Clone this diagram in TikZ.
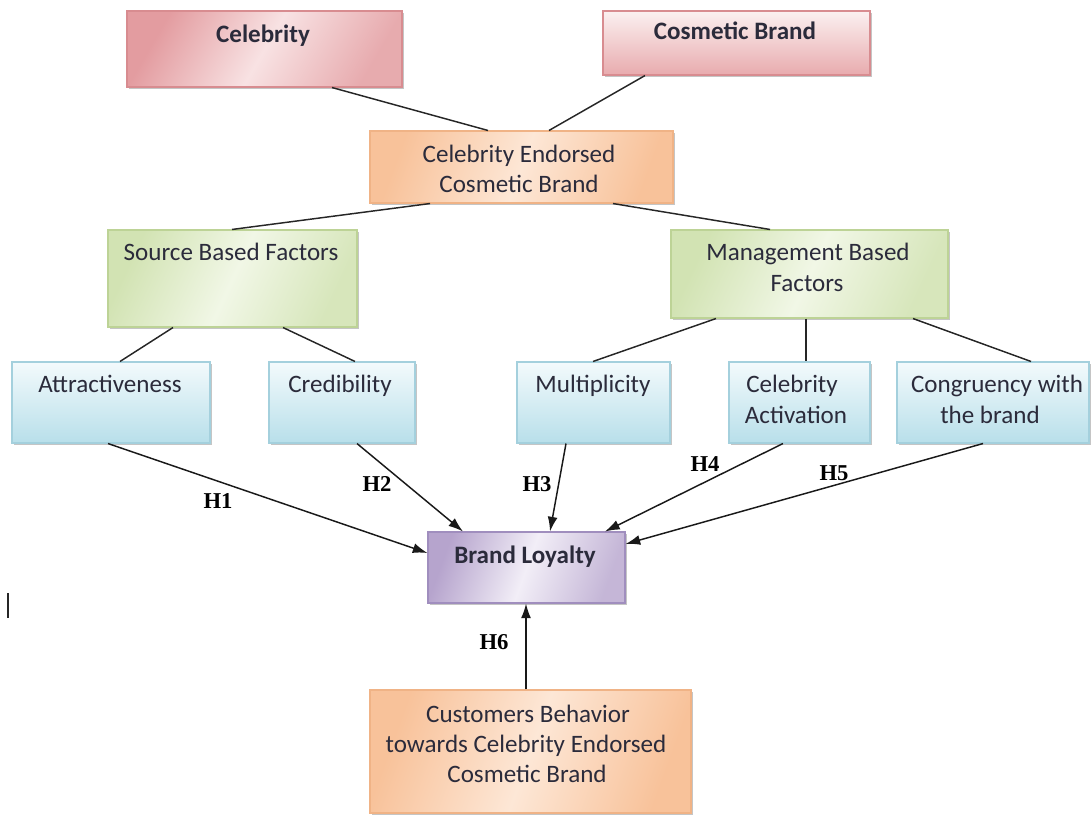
\documentclass[tikz,border=0pt]{standalone}
\usepackage{fontspec}
\setmainfont{Carlito}
\newfontfamily\hfont{Liberation Serif}
\usetikzlibrary{fit,shadows,arrows.meta}
\definecolor{txtc}{HTML}{2B2B3B}
\definecolor{pinkA}{HTML}{E39CA0}
\definecolor{pinkB}{HTML}{F8E2E3}
\definecolor{pinkD}{HTML}{D88C90}
\definecolor{pink2A}{HTML}{FBF0F0}
\definecolor{pink2B}{HTML}{E8ABAE}
\definecolor{orA}{HTML}{F8C29A}
\definecolor{orB}{HTML}{FDE7D6}
\definecolor{orD}{HTML}{F0B386}
\definecolor{grA}{HTML}{D2E3B3}
\definecolor{grB}{HTML}{F1F7E6}
\definecolor{grD}{HTML}{BDD396}
\definecolor{blA}{HTML}{F3FAFC}
\definecolor{blB}{HTML}{B8DFEA}
\definecolor{blD}{HTML}{A4D0DD}
\definecolor{puA}{HTML}{B6A4CD}
\definecolor{puB}{HTML}{F2EEF7}
\definecolor{puD}{HTML}{A08EBE}
\tikzset{
  box/.style={rectangle, inner sep=0pt, line width=0.8pt,
    drop shadow={shadow xshift=1.6pt, shadow yshift=-1.8pt, fill=black!45, opacity=0.5}},
  celbox/.style={box, draw=pinkD, left color=pinkA, right color=pinkA!85, middle color=pinkB, shading angle=60},
  cosbox/.style={box, draw=pinkD, top color=pink2A, bottom color=pink2B},
  orbox/.style={box, draw=orD, left color=orA, right color=orA, middle color=orB, shading angle=70},
  grbox/.style={box, draw=grD, left color=grA, right color=grA!90, middle color=grB, shading angle=65},
  blbox/.style={box, draw=blD, top color=blA, bottom color=blB},
  pubox/.style={box, draw=puD, left color=puA, right color=puA!80, middle color=puB, shading angle=70},
  txt/.style={anchor=base, inner sep=0pt, text=txtc, font=\fontsize{18.8}{22.5}\selectfont},
  btxt/.style={txt, font=\fontsize{18.8}{22.5}\selectfont\bfseries},
  hyp/.style={inner sep=0pt, font=\hfont\bfseries\fontsize{17}{20}\selectfont},
  link/.style={line width=1.1pt, black!85},
  arr/.style={line width=1.1pt, black!90, -{Latex[length=11pt,width=7.5pt]}}
}
\begin{document}
\begin{tikzpicture}[x=0.75pt,y=-0.75pt]
\path[use as bounding box] (0,0) rectangle (1091,815);

% boxes
\node[celbox, fit={(127,11)(402,87)}] (celeb) {};
\node[cosbox, fit={(603,11)(870,75)}] (cos) {};
\node[orbox, fit={(370,131)(673,203)}] (cecb) {};
\node[grbox, fit={(108,230)(357,327)}] (sbf) {};
\node[grbox, fit={(671,230)(948,318)}] (mbf) {};
\node[blbox, fit={(12,362)(210,443)}] (attr) {};
\node[blbox, fit={(269,362)(415,443)}] (cred) {};
\node[blbox, fit={(517,362)(670,443)}] (mult) {};
\node[blbox, fit={(729,362)(870,443)}] (act) {};
\node[blbox, fit={(897,362)(1089,443)}] (cong) {};
\node[pubox, fit={(428,532)(625,603)}] (bl) {};
\node[orbox, fit={(370,690)(691,813)}] (cust) {};

% texts
\node[btxt] (celebT) at (263,42) {Celebrity};
\node[btxt] (cosT) at (735,39) {Cosmetic Brand};
\node[txt] (cecbT1) at (519,162) {Celebrity Endorsed};
\node[txt] (cecbT2) at (519,192) {Cosmetic Brand};
\node[txt] (sbfT) at (231,260) {Source Based Factors};
\node[txt] (mbfT1) at (808,260) {Management Based};
\node[txt] (mbfT2) at (807,291) {Factors};
\node[txt] (attrT) at (110,392) {Attractiveness};
\node[txt] (credT) at (340,392) {Credibility};
\node[txt] (multT) at (593,392) {Multiplicity};
\node[txt] (actT1) at (792,392) {Celebrity};
\node[txt] (actT2) at (796,423) {Activation};
\node[txt] (congT1) at (997,392) {Congruency with};
\node[txt] (congT2) at (990,423) {the brand};
\node[btxt] (blT) at (525,563) {Brand Loyalty};
\node[txt] (custT1) at (528,722) {Customers Behavior};
\node[txt] (custT2) at (526,752) {towards Celebrity Endorsed};
\node[txt] (custT3) at (527,782) {Cosmetic Brand};

% plain connectors
\draw[link] (celeb.south -| 332,0) -- (cecb.north -| 488,0);
\draw[link] (cos.south -| 645,0) -- (cecb.north -| 549,0);
\draw[link] (cecb.south -| 430,0) -- (sbf.north -| 232,0);
\draw[link] (cecb.south -| 613,0) -- (mbf.north -| 770,0);
\draw[link] (sbf.south -| 173,0) -- (attr.north -| 120,0);
\draw[link] (sbf.south -| 283,0) -- (cred.north -| 355,0);
\draw[link] (mbf.south -| 716,0) -- (mult.north -| 593,0);
\draw[link] (mbf.south -| 806,0) -- (act.north -| 806,0);
\draw[link] (mbf.south -| 913,0) -- (cong.north -| 1031,0);

% arrows
\draw[arr] (attr.south -| 108,0) -- (bl.west |- 0,553);
\draw[arr] (cred.south -| 357,0) -- (bl.north -| 463,0);
\draw[arr] (mult.south -| 566,0) -- (bl.north -| 550,0);
\draw[arr] (act.south -| 783,0) -- (bl.north -| 605,0);
\draw[arr] (cong.south -| 983,0) -- (bl.east |- 0,544);
\draw[arr] (cust.north -| 526,0) -- (bl.south -| 526,0);

% hypothesis labels
\node[hyp] (h1) at (218,501) {H1};
\node[hyp] (h2) at (377,484) {H2};
\node[hyp] (h3) at (537,484) {H3};
\node[hyp] (h4) at (705,464) {H4};
\node[hyp] (h5) at (834,473) {H5};
\node[hyp] (h6) at (494,642) {H6};

% stray mark
\draw[line width=2pt, black!85] (8,593) -- (8,618);
\end{tikzpicture}
\end{document}
